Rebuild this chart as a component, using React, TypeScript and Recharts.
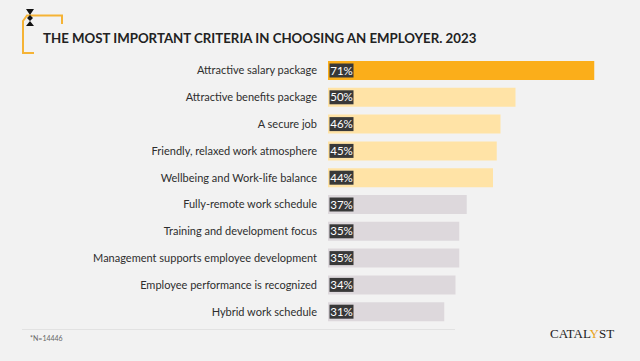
import React from 'react';
import { BarChart, Bar, XAxis, YAxis, Cell, LabelList } from 'recharts';

const criteria = [
  'Attractive salary package',
  'Attractive benefits package',
  'A secure job',
  'Friendly, relaxed work atmosphere',
  'Wellbeing and Work-life balance',
  'Fully-remote work schedule',
  'Training and development focus',
  'Management supports employee development',
  'Employee performance is recognized',
  'Hybrid work schedule',
];
const shares = [71, 50, 46, 45, 44, 37, 35, 35, 34, 31];
const barColors = ['#FBAE1A', '#FFE3A6', '#FFE3A6', '#FFE3A6', '#FFE3A6', '#DDD8DC', '#DDD8DC', '#DDD8DC', '#DDD8DC', '#DDD8DC'];

const data = criteria.map((name, i) => ({ name, value: shares[i] }));

const font = 'Lato, "Open Sans", sans-serif';

// dark box with the percentage, at the start of each bar
const ValueTag = (props: any) => {
  const { x, y, height, value } = props;
  const h = 14;
  const top = y + (height - h) / 2;
  return (
    <g>
      <rect x={x + 1.5} y={top} width={24} height={h} fill="#383838" />
      <text x={x + 13.5} y={top + 11} textAnchor="middle" fill="#fff" fontSize={11.5} fontFamily={font}>
        {value}%
      </text>
    </g>
  );
};

const App: React.FC = () => {
  return (
    <div style={{ position: 'absolute', left: 0, top: 0, width: 640, height: 361, background: '#F2F2F2', overflow: 'hidden' }}>
      <BarChart
        width={640}
        height={361}
        data={data}
        layout="vertical"
        margin={{ top: 57, right: 12, bottom: 36, left: 0 }}
      >
        <XAxis type="number" domain={[0, 80]} hide />
        <YAxis
          type="category"
          dataKey="name"
          width={328}
          axisLine={false}
          tickLine={false}
          tickSize={0}
          tickMargin={11}
          tick={{ fill: '#2e2e2e', fontSize: 11, fontFamily: font }}
        />
        <Bar dataKey="value" barSize={19} isAnimationActive={false}>
          {data.map((d, i) => (
            <Cell key={d.name} fill={barColors[i]} />
          ))}
          <LabelList dataKey="value" content={ValueTag} />
        </Bar>
      </BarChart>
      <svg width={640} height={361} style={{ position: 'absolute', left: 0, top: 0, pointerEvents: 'none' }}>
        <path d="M34 53 H23 V21 L27 15.5 H62 V24" fill="none" stroke="#F5B335" strokeWidth={2} />
        <path d="M26 9 H34 L30 15 L33 18 L30 21 L34 26 H26 L30 21 L27 18 L30 15 Z" fill="#111" />
        <text x={43} y={43} fontFamily={font} fontWeight="bold" fontSize={13.25} fill="#222">
          THE MOST IMPORTANT CRITERIA IN CHOOSING AN EMPLOYER. 2023
        </text>
        <line x1={22} y1={329.5} x2={455} y2={329.5} stroke="#E2E2E2" strokeWidth={1} />
        <text x={30} y={341} fontFamily={font} fontSize={7} fill="#666">*N=14446</text>
        <text x={550} y={338} fontFamily='"Liberation Serif", serif' fontSize={13} fill="#222">
          CATAL<tspan fill="#E8A31C">Y</tspan>ST
        </text>
      </svg>
    </div>
  );
};

export default App;
